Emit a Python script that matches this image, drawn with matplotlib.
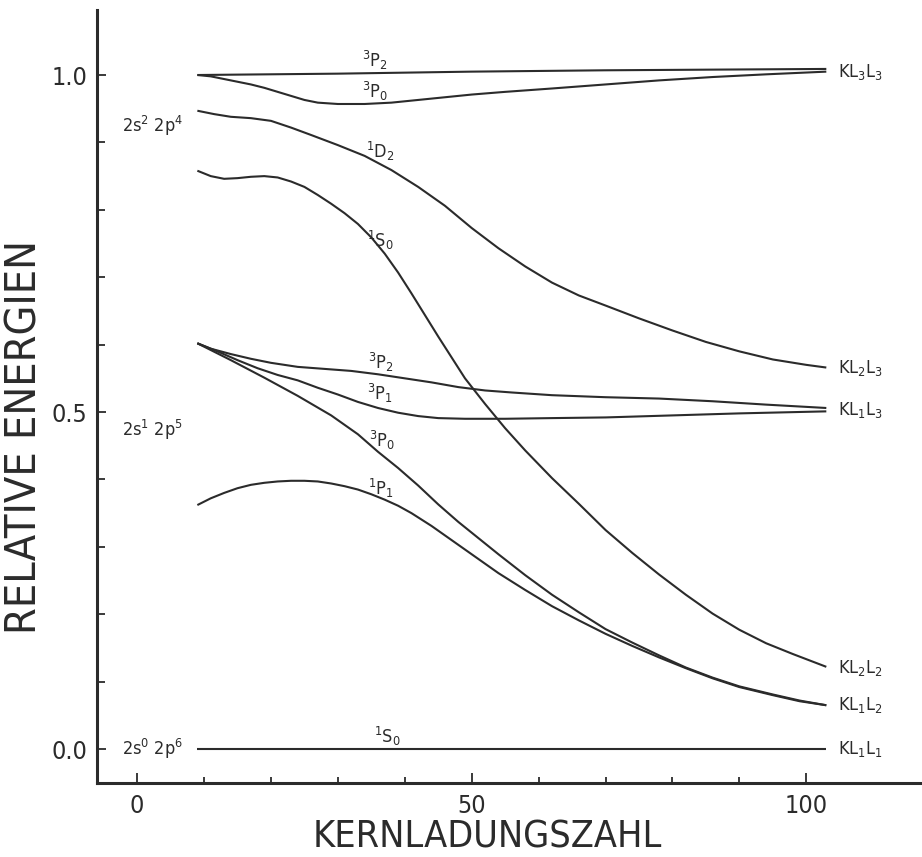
import matplotlib
matplotlib.use("Agg")
import matplotlib.pyplot as plt

plt.rcParams['font.family'] = ['DejaVu Sans']
plt.rcParams['font.stretch'] = 'condensed'
plt.rcParams['mathtext.fontset'] = 'custom'
plt.rcParams['mathtext.rm'] = 'DejaVu Sans:stretch=condensed'
plt.rcParams['mathtext.it'] = 'DejaVu Sans:stretch=condensed'

# 2s2 2p4 Konfiguration
z_d1_3p2 = [9, 30, 50, 70, 103]
e_d1_3p2 = [1.000, 1.002, 1.005, 1.007, 1.009]

z_d1_3p0 = [9, 11, 13, 15, 17, 19, 21, 23, 25, 27, 30, 34, 38, 42, 46, 50, 55, 62, 70, 78, 86, 94, 103]
e_d1_3p0 = [1.000, 0.998, 0.994, 0.990, 0.986, 0.981, 0.975, 0.969, 0.963, 0.959, 0.957, 0.957,
            0.959, 0.963, 0.967, 0.971, 0.975, 0.980, 0.986, 0.992, 0.997, 1.001, 1.005]

z_d1_1d2 = [9, 11.5, 14, 17, 20, 23, 26, 30, 34, 38, 42, 46, 50, 54, 58, 62, 66, 70, 75, 80, 85, 90, 95, 100, 103]
e_d1_1d2 = [0.947, 0.942, 0.938, 0.936, 0.932, 0.922, 0.911, 0.896, 0.880, 0.859, 0.834, 0.806, 0.773,
            0.743, 0.716, 0.692, 0.673, 0.658, 0.639, 0.621, 0.604, 0.590, 0.578, 0.570, 0.566]

z_d1_1s0 = [9, 11, 13, 15, 17, 19, 21, 23, 25, 27, 29, 31, 33, 35, 37, 39, 41, 43, 45, 47, 49,
            52, 55, 58, 62, 66, 70, 74, 78, 82, 86, 90, 94, 98, 103]
e_d1_1s0 = [0.858, 0.850, 0.846, 0.847, 0.849, 0.850, 0.848, 0.842, 0.834, 0.822, 0.809, 0.795, 0.779,
            0.759, 0.735, 0.707, 0.676, 0.644, 0.612, 0.581, 0.550, 0.512, 0.476, 0.443, 0.402,
            0.364, 0.325, 0.291, 0.259, 0.229, 0.201, 0.177, 0.157, 0.141, 0.122]

# 2s1 2p5 Konfiguration
z_d2_3p2 = [9, 11, 14, 17, 20, 24, 28, 32, 36, 40, 44, 48, 52, 56, 62, 70, 78, 86, 94, 103]
e_d2_3p2 = [0.602, 0.594, 0.586, 0.579, 0.573, 0.567, 0.564, 0.561, 0.556, 0.550, 0.544, 0.537,
            0.532, 0.529, 0.525, 0.522, 0.520, 0.516, 0.511, 0.506]

z_d2_3p1 = [9, 12, 15, 18, 21, 24, 27, 30, 33, 36, 39, 42, 45, 49, 55, 62, 70, 80, 90, 103]
e_d2_3p1 = [0.602, 0.590, 0.577, 0.565, 0.555, 0.547, 0.536, 0.526, 0.515, 0.506, 0.499, 0.494,
            0.491, 0.490, 0.490, 0.491, 0.492, 0.495, 0.498, 0.501]

z_d2_3p0 = [9, 14, 19, 24, 29, 33, 36, 39, 42, 45, 48, 51, 54, 58, 62, 66, 70, 74, 78, 82, 86, 90, 95, 99, 103]
e_d2_3p0 = [0.602, 0.577, 0.551, 0.524, 0.495, 0.467, 0.441, 0.417, 0.391, 0.363, 0.337, 0.313,
            0.289, 0.258, 0.229, 0.203, 0.178, 0.158, 0.139, 0.121, 0.106, 0.093, 0.081, 0.072, 0.065]

z_d2_1p1 = [9, 11, 13, 15, 17, 19, 21, 23, 25, 27, 29, 31, 33, 35, 37, 39, 41, 44, 47, 50, 54,
            58, 62, 66, 70, 74, 78, 82, 86, 90, 95, 99, 103]
e_d2_1p1 = [0.362, 0.372, 0.380, 0.387, 0.392, 0.395, 0.397, 0.398, 0.398, 0.397, 0.394, 0.390,
            0.385, 0.378, 0.370, 0.361, 0.350, 0.331, 0.310, 0.289, 0.261, 0.236, 0.212, 0.191,
            0.171, 0.153, 0.136, 0.120, 0.105, 0.092, 0.080, 0.071, 0.065]

# 2s0 2p6 Konfiguration
z_d3_1s0 = [9, 103]
e_d3_1s0 = [0.0, 0.0]

curves = [(z_d1_3p2, e_d1_3p2), (z_d1_3p0, e_d1_3p0), (z_d1_1d2, e_d1_1d2), (z_d1_1s0, e_d1_1s0),
          (z_d2_3p2, e_d2_3p2), (z_d2_3p1, e_d2_3p1), (z_d2_3p0, e_d2_3p0), (z_d2_1p1, e_d2_1p1),
          (z_d3_1s0, e_d3_1s0)]

# Termbezeichnungen an den Kurven
term_labels = [r'$\mathrm{^3P_2}$', r'$\mathrm{^3P_0}$', r'$\mathrm{^1D_2}$', r'$\mathrm{^1S_0}$',
               r'$\mathrm{^3P_2}$', r'$\mathrm{^3P_1}$', r'$\mathrm{^3P_0}$', r'$\mathrm{^1P_1}$',
               r'$\mathrm{^1S_0}$']
term_x = [35.6, 35.6, 36.3, 36.3, 36.5, 36.3, 36.6, 36.5, 37.4]
term_y = [1.022, 0.975, 0.886, 0.755, 0.573, 0.527, 0.458, 0.386, 0.018]

config_labels = [r'$\mathrm{2s^2\ 2p^4}$', r'$\mathrm{2s^1\ 2p^5}$', r'$\mathrm{2s^0\ 2p^6}$']
config_y = [0.924, 0.473, 0.0]

kll_labels = [r'$\mathrm{KL_3L_3}$', r'$\mathrm{KL_2L_3}$', r'$\mathrm{KL_1L_3}$',
              r'$\mathrm{KL_2L_2}$', r'$\mathrm{KL_1L_2}$', r'$\mathrm{KL_1L_1}$']
kll_y = [1.004, 0.565, 0.503, 0.120, 0.065, 0.0]

ink = '#2b2b2b'

fig = plt.figure(figsize=(9.22, 8.57), dpi=100)
ax = fig.add_axes([0.1052, 0.0863, 0.8948, 0.902])

for z, e in curves:
    ax.plot(z, e, color=ink, linewidth=1.5, solid_capstyle='butt', solid_joinstyle='round')

for lab, x, y in zip(term_labels, term_x, term_y):
    ax.text(x, y, lab, fontsize=13, color=ink, ha='center', va='center')

for lab, y in zip(config_labels, config_y):
    ax.text(-2.3, y, lab, fontsize=13, color=ink, ha='left', va='center')

for lab, y in zip(kll_labels, kll_y):
    ax.text(104.8, y, lab, fontsize=13, color=ink, ha='left', va='center')

ax.set_xlim(-6.0, 117.3)
ax.set_ylim(-0.0504, 1.0964)

for s in ['top', 'right']:
    ax.spines[s].set_visible(False)
for s in ['left', 'bottom']:
    ax.spines[s].set_linewidth(2.2)
    ax.spines[s].set_color(ink)

ax.set_xticks([0, 50, 100])
ax.set_xticks(range(0, 101, 10), minor=True)
ax.set_yticks([0.0, 0.5, 1.0])
ax.set_yticklabels(['0.0', '0.5', '1.0'])
ax.set_yticks([i / 10 for i in range(11)], minor=True)

ax.tick_params(axis='x', which='major', direction='in', length=7, width=1.3, color=ink,
               labelsize=18, pad=8, labelcolor=ink)
ax.tick_params(axis='x', which='minor', direction='in', length=4.5, width=1.3, color=ink)
ax.tick_params(axis='y', which='major', direction='in', length=6.5, width=1.3, color=ink,
               labelsize=18, pad=7, labelcolor=ink)
ax.tick_params(axis='y', which='minor', direction='in', length=5.5, width=1.3, color=ink)

ax.set_xlabel('KERNLADUNGSZAHL', fontsize=27, color=ink)
ax.set_ylabel('RELATIVE ENERGIEN', fontsize=31, color=ink)
ax.xaxis.set_label_coords(0.473, -0.047)
ax.yaxis.set_label_coords(-0.063, 0.448)

fig.savefig('out.png', dpi=100)
